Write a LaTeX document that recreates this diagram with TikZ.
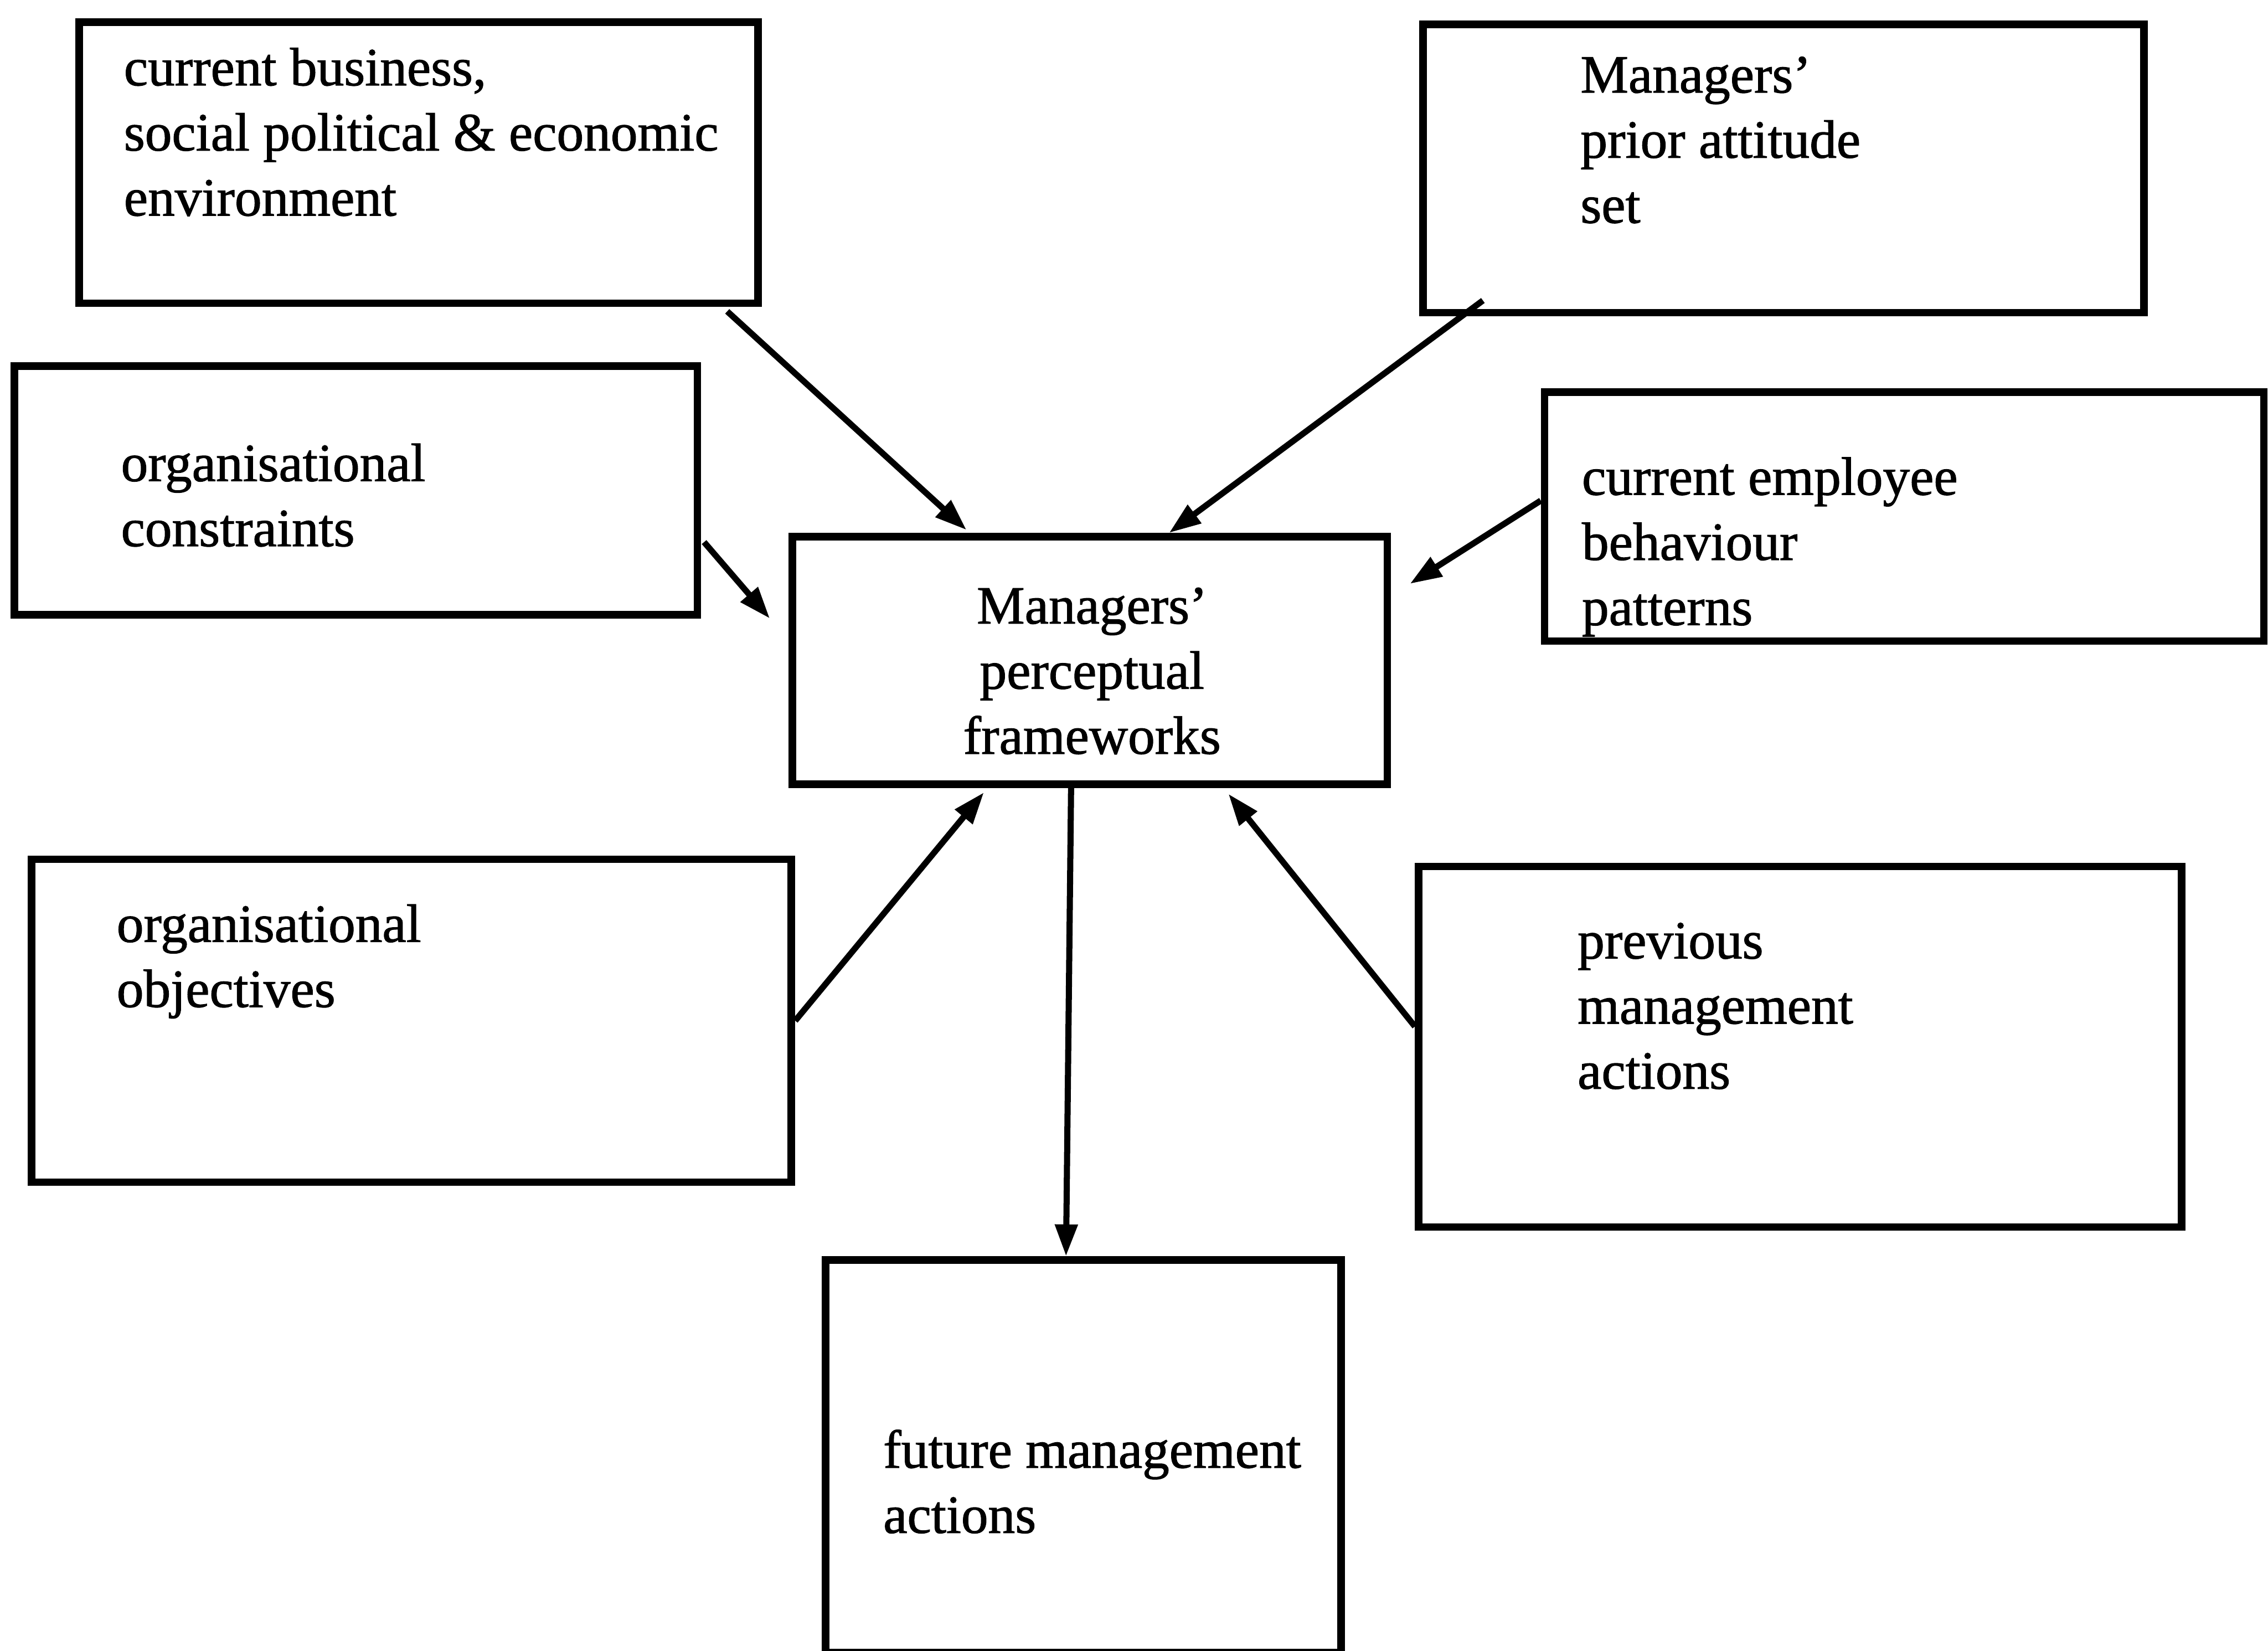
\documentclass[tikz,border=0pt]{standalone}
\usepackage{fontspec}
\setmainfont{Liberation Serif}[FakeBold=1.2]
\usetikzlibrary{arrows.meta,calc}
\begin{document}
\begin{tikzpicture}[x=0.01cm,y=-0.01cm,
  box/.style={draw, line width=1.5pt, rectangle, inner sep=0pt},
  lbl/.style={anchor=base west, align=left, inner sep=0pt,
              font=\fontsize{10.6}{12.8}\selectfont},
  clbl/.style={anchor=base, align=center, inner sep=0pt,
              font=\fontsize{10.6}{12.8}\selectfont},
  link/.style={line width=1.2pt, -{Triangle[length=0.22cm,width=0.15cm]}}]
  \useasboundingbox (0,0) rectangle (1568,1141);

  % boxes
  \node[box, minimum width=4.69cm, minimum height=1.94cm] (A) at (289.5,112.5) {};
  \node[box, minimum width=4.98cm, minimum height=1.99cm] (B) at (1233,116.5) {};
  \node[box, minimum width=4.72cm, minimum height=1.72cm] (C) at (246,339) {};
  \node[box, minimum width=4.97cm, minimum height=1.72cm] (D) at (1316.5,357) {};
  \node[box, minimum width=4.11cm, minimum height=1.71cm] (M) at (753.5,456.5) {};
  \node[box, minimum width=5.25cm, minimum height=2.23cm] (E) at (284.5,705.5) {};
  \node[box, minimum width=5.27cm, minimum height=2.49cm] (F) at (1244.5,723.5) {};
  \node[box, minimum width=3.56cm, minimum height=2.71cm] (G) at (749,1006.5) {};

  % texts (anchored at the baseline of their last line)
  \node[lbl] (tA) at (85,149) {current business,\\social political \& economic\\environment};
  \node[lbl] (tB) at (1092,154) {Managers’\\prior attitude\\set};
  \node[lbl] (tC) at (83,377.5) {organisational\\constraints};
  \node[lbl] (tD) at (1093,432) {current employee\\behaviour\\patterns};
  \node[clbl] (tM) at (755,521) {Managers’\\perceptual\\frameworks};
  \node[lbl] (tE) at (80,696) {organisational\\objectives};
  \node[lbl] (tF) at (1090,752.5) {previous\\management\\actions};
  \node[lbl] (tG) at (610,1059.5) {future management\\actions};

  % connectors
  \draw[link] ($(A.south east)+(-24,3)$) -- ($(M.north west)+(123,-2)$);
  \draw[link] ($(B.south west)+(44,-11)$) -- ($(M.north west)+(263,0)$);
  \draw[link] ($(C.south east)+(2,-53)$) -- ($(M.west)+(-13,-29)$);
  \draw[link] ($(D.west)+(0,-11)$) -- ($(M.east)+(13,-53)$);
  \draw[link] (E.east) -- ($(M.south west)+(135,3)$);
  \draw[link] ($(F.west)+(0,-14)$) -- ($(M.south west)+(304,4)$);
  \draw[link] ($(M.south)+(-13,0)$) -- ($(G.north)+(-12,0)$);
\end{tikzpicture}
\end{document}
